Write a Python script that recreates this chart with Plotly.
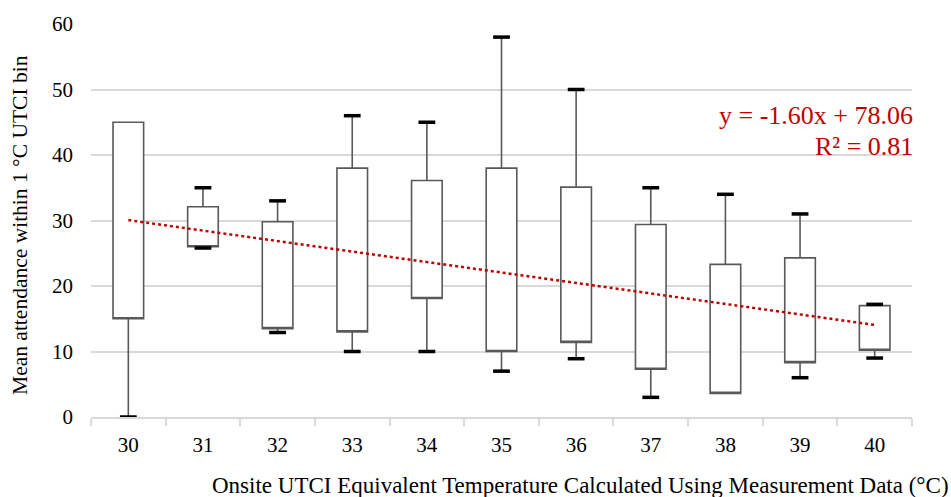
import plotly.graph_objects as go

temps = [30, 31, 32, 33, 34, 35, 36, 37, 38, 39, 40]
q1 = [15.0, 26.0, 13.5, 13.0, 18.1, 10.0, 11.4, 7.3, 3.6, 8.3, 10.2]
q3 = [45.0, 32.1, 29.8, 38.0, 36.1, 38.0, 35.1, 29.4, 23.3, 24.3, 17.0]
wmin = [0.0, 25.8, 12.9, 10.0, 10.0, 7.0, 8.9, 3.0, 3.6, 6.0, 9.0]
wmax = [45.0, 35.0, 33.0, 46.0, 45.0, 58.0, 50.0, 35.0, 34.0, 31.0, 17.2]
trend_slope = -1.60
trend_intercept = 78.06
r_squared = 0.81
x_tick_labels = [str(t) for t in temps]
y_ticks = [0, 10, 20, 30, 40, 50, 60]

FONT = "Liberation Serif, Times New Roman, serif"
RED = "#C00000"
GRID = "#D9D9D9"

L, R, T, B = 91, 39, 22, 80
PW, PH = 951 - L - R, 497 - T - B


def px_x(px):
    return (px - L) / PW


def px_y(py):
    return (497 - B - py) / PH


fig = go.Figure()

fig.add_trace(go.Box(
    x=temps, q1=q1, median=q1, q3=q3,
    lowerfence=wmin, upperfence=wmax,
    width=0.41, whiskerwidth=0,
    fillcolor="white",
    line=dict(color="#595959", width=1.6),
    boxpoints=False, showlegend=False, hoverinfo="skip",
))

# whisker caps (only where a whisker exists)
cap_x, cap_y = [], []
for t, lo, a, b, hi in zip(temps, wmin, q1, q3, wmax):
    if hi > b:
        cap_x.append(t); cap_y.append(hi)
    if lo < a:
        cap_x.append(t); cap_y.append(lo)
fig.add_trace(go.Scatter(
    x=cap_x, y=cap_y, mode="markers", cliponaxis=False,
    marker=dict(symbol="line-ew", size=12, line=dict(color="black", width=3.5)),
    showlegend=False, hoverinfo="skip",
))

# linear trendline
tx = [temps[0], temps[-1]]
ty = [trend_slope * x + trend_intercept for x in tx]
fig.add_trace(go.Scatter(
    x=tx, y=ty, mode="lines",
    line=dict(color=RED, width=2.5, dash="dot"),
    showlegend=False, hoverinfo="skip",
))

fig.update_layout(
    width=951, height=497,
    margin=dict(l=L, r=R, t=T, b=B),
    paper_bgcolor="white", plot_bgcolor="white",
    font=dict(family=FONT, size=21, color="black"),
    xaxis=dict(
        range=[29.5, 40.5], tickvals=temps, ticktext=x_tick_labels,
        ticks="", showgrid=False, zeroline=False,
        showline=True, linecolor=GRID, linewidth=1.5,
        ticklabelstandoff=8,
        minor=dict(tickvals=[t - 0.5 for t in temps] + [temps[-1] + 0.5],
                   ticks="outside", ticklen=7, tickcolor=GRID, tickwidth=1.5,
                   showgrid=False),
        tickfont=dict(family=FONT, size=21),
    ),
    yaxis=dict(
        range=[0, 60], tickvals=y_ticks, ticks="",
        showgrid=True, gridcolor=GRID, gridwidth=1.5,
        zeroline=False, showline=False,
        ticklabelstandoff=17,
        tickfont=dict(family=FONT, size=21),
    ),
    annotations=[
        dict(text="Mean attendance within 1 °C UTCI bin", textangle=-90,
             xref="paper", yref="paper", x=px_x(20), y=px_y(224),
             xanchor="center", yanchor="middle", showarrow=False,
             font=dict(family=FONT, size=21.5, color="black")),
        dict(text="Onsite UTCI Equivalent Temperature Calculated Using Measurement Data (°C)",
             xref="paper", yref="paper", x=px_x(951), y=px_y(486),
             xanchor="right", yanchor="middle", showarrow=False,
             font=dict(family=FONT, size=23, color="black")),
        dict(text=f"y = {trend_slope:.2f}x + {trend_intercept:.2f}",
             xref="paper", yref="paper", x=px_x(915), y=px_y(114),
             xanchor="right", yanchor="middle", showarrow=False,
             font=dict(family=FONT, size=26, color=RED)),
        dict(text=f"R² = {r_squared:.2f}",
             xref="paper", yref="paper", x=px_x(915), y=px_y(145),
             xanchor="right", yanchor="middle", showarrow=False,
             font=dict(family=FONT, size=26, color=RED)),
    ],
)

fig.write_html("out.html")
